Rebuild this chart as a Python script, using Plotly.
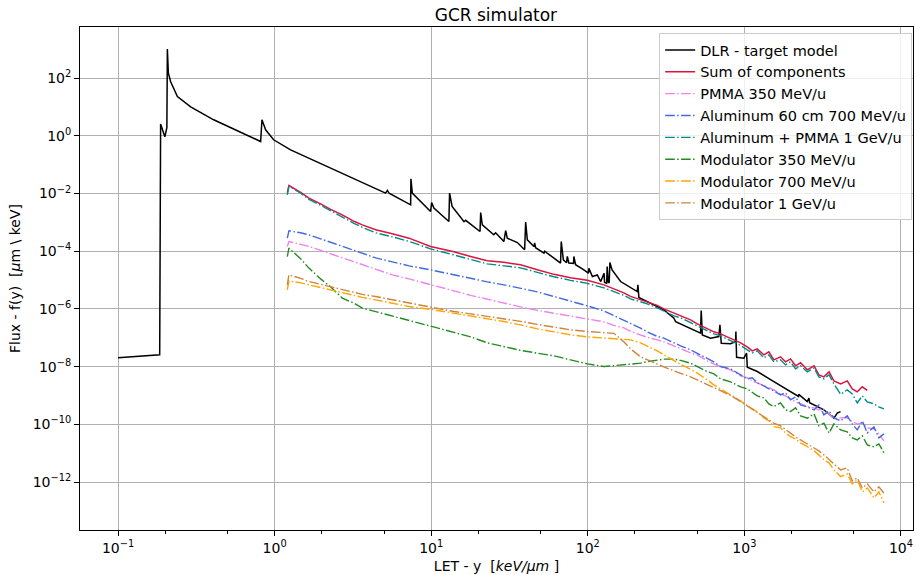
import plotly.graph_objects as go

# ---------------- data ----------------
dlr_let = [0.1, 0.1845, 0.187, 0.199, 0.205, 0.2065, 0.2096, 0.2168, 0.2393, 0.291,
           0.408, 0.814, 0.83, 0.876, 0.985, 1.265, 2.28, 3.29, 5.11, 5.25,
           5.38, 7.39, 7.42, 7.57, 9.91, 10.06, 10.4, 12.97, 13.1, 13.6,
           16.2, 16.6, 20.5, 20.7, 21.2, 25.1, 25.8, 29.1, 29.9, 30.6,
           35.5, 39.5, 40.1, 41.1, 45.3, 45.8, 46.4, 52.5, 53, 60.8,
           67, 67.7, 69.8, 73.2, 74, 75.7, 81.1, 81.5, 83.6, 94.4,
           101, 101.6, 107, 115, 121, 127, 128, 132, 133, 135,
           137, 138.4, 143, 162, 207, 209, 212, 306, 355, 364,
           453, 525, 530, 539, 608, 687, 698, 712, 817, 879,
           883, 892, 993, 1033, 1044, 1210, 1543, 1972, 2218, 2225,
           2520, 2585, 2610, 3220, 3550, 3730, 3920, 4115]
dlr_flux = [2.02e-8, 2.57e-8, 2.55, 0.92, 1.9, 1010, 149, 74.5, 23, 10.1,
            3.59, 0.634, 3.59, 1.61, 0.727, 0.327, 0.076, 0.0299, 0.0103, 0.0129,
            0.0102, 4.06e-3, 0.0324, 0.0103, 2.38e-3, 4.88e-3, 3.12e-3, 1.07e-3, 0.0103, 3.55e-3,
            1.05e-3, 1.18e-3, 4.82e-4, 2.19e-3, 8.2e-4, 3.7e-4, 4.35e-4, 2.17e-4, 5.2e-4, 2.84e-4,
            2.0e-4, 1.12e-4, 1.02e-3, 2.48e-4, 1.46e-4, 1.95e-4, 1.32e-4, 8.6e-5, 1.0e-4, 5.75e-5,
            3.9e-5, 2.17e-4, 5.0e-5, 3.98e-5, 6.6e-5, 3.9e-5, 3.8e-5, 6.6e-5, 3.4e-5, 2.26e-5,
            1.74e-5, 2.56e-5, 1.33e-5, 1.51e-5, 8.9e-6, 1.74e-5, 8.3e-6, 7.8e-6, 2.95e-5, 8.7e-6,
            8.0e-6, 4.07e-5, 2.26e-5, 8.9e-6, 4.0e-6, 6.8e-6, 2.5e-6, 9.3e-7, 4.8e-7, 3.6e-7,
            2.16e-7, 1.45e-7, 8.8e-7, 1.26e-7, 9.7e-8, 1.1e-7, 2.8e-7, 6.5e-8, 6.2e-8, 7.4e-8,
            1.65e-7, 2.1e-8, 1.97e-8, 2.94e-8, 9.5e-9, 6.8e-9, 3.05e-9, 1.38e-9, 9.3e-10, 1.1e-9,
            6.2e-10, 8.1e-10, 5.6e-10, 3.2e-10, 2.1e-10, 1.64e-10, 2.45e-10, 2.78e-10]

# shared LET grid of the simulated components
comp_let = [1.205, 1.234, 1.466, 1.656, 1.966, 2.279, 2.705, 3.21, 3.63, 4.42,
            5.64, 7.21, 9.91, 13.96, 17.85, 22.8, 29.1, 37.2, 47.6, 60.8,
            77.6, 99.3, 126.7, 146.8, 170, 187.6, 217.3, 239.7, 277.7, 306,
            355, 391.4, 453, 500.6, 579.6, 638.6, 704.7, 816.6, 946, 1043.5,
            1123, 1208, 1333, 1433, 1543, 1702, 1832, 1972, 2123, 2286,
            2523, 2787, 2990, 3221, 3474, 3730, 4115, 4540, 4888, 5260,
            5665, 6095, 6720, 7227, 7785]

sum_let = [1.205, 1.234, 1.466, 1.656, 1.966, 2.279, 2.705, 3.21, 3.63, 4.42,
           5.64, 7.21, 9.91, 13.96, 17.85, 22.8, 29.1, 37.2, 47.6, 60.8,
           77.6, 99.3, 126.7, 146.8, 170, 187.6, 217.3, 239.7, 277.7, 306,
           355, 391.4, 453, 500.6, 579.6, 638.6, 704.7, 816.6, 946, 1043.5,
           1123, 1208, 1333, 1433, 1543, 1702, 1832, 1972, 2123, 2286,
           2523, 2787, 2990, 3221, 3474, 3730, 4115, 4540, 4888, 5260,
           5665, 6095]
sum_flux = [1.06e-2, 1.89e-2, 1.10e-2, 6.93e-3, 4.40e-3, 2.83e-3, 1.83e-3, 1.09e-3, 8.22e-4, 5.52e-4,
            4.01e-4, 2.84e-4, 1.46e-4, 9.53e-5, 6.55e-5, 4.65e-5, 4.12e-5, 3.38e-5, 2.27e-5, 1.58e-5,
            1.20e-5, 9.8e-6, 6.84e-6, 4.97e-6, 3.61e-6, 2.73e-6, 2.07e-6, 1.76e-6, 1.33e-6, 1.01e-6,
            7.33e-7, 5.77e-7, 4.19e-7, 3.05e-7, 2.04e-7, 1.61e-7, 1.37e-7, 9.73e-8, 6.68e-8, 4.86e-8,
            3.53e-8, 4.14e-8, 2.56e-8, 3.26e-8, 1.72e-8, 2.19e-8, 1.47e-8, 1.86e-8, 1.07e-8, 1.36e-8,
            7.75e-9, 1.07e-8, 5.20e-9, 4.43e-9, 6.61e-9, 3.22e-9, 2.54e-9, 3.22e-9, 1.70e-9, 1.34e-9,
            2.00e-9, 1.51e-9]

pmma_350 = [1.46e-4, 2.17e-4, 1.73e-4, 1.46e-4, 1.07e-4, 8.13e-5, 5.77e-5, 4.30e-5, 3.38e-5, 2.27e-5,
            1.52e-5, 1.10e-5, 7.13e-6, 4.24e-6, 2.96e-6, 2.15e-6, 1.59e-6, 1.18e-6, 8.94e-7, 7.15e-7,
            5.77e-7, 4.36e-7, 3.57e-7, 2.70e-7, 2.21e-7, 1.67e-7, 1.27e-7, 1.04e-7, 8.49e-8, 7.24e-8,
            5.26e-8, 4.14e-8, 3.01e-8, 2.56e-8, 1.59e-8, 1.25e-8, 9.84e-9, 7.75e-9, 4.80e-9, 4.09e-9,
            3.22e-9, 2.74e-9, 2.16e-9, 1.84e-9, 1.57e-9, 1.14e-9, 9.72e-10, 7.66e-10, 6.03e-10, 5.14e-10,
            4.2e-10, 3.73e-10, 3.18e-10, 3.3e-10, 2.31e-10, 1.6e-10, 1.68e-10, 1.7e-10, 1.22e-10, 1.04e-10,
            1.1e-10, 7.57e-11, 7.0e-11, 4.69e-11, 2.68e-11]

aluminum_700 = [2.84e-4, 5.09e-4, 4.35e-4, 3.70e-4, 2.69e-4, 2.03e-4, 1.46e-4, 1.07e-4, 8.46e-5, 5.90e-5,
                4.30e-5, 3.12e-5, 2.27e-5, 1.52e-5, 1.17e-5, 8.69e-6, 6.84e-6, 5.18e-6, 3.92e-6, 2.69e-6,
                1.91e-6, 1.28e-6, 8.59e-7, 6.00e-7, 4.19e-7, 3.17e-7, 2.16e-7, 1.61e-7, 1.12e-7, 9.73e-8,
                6.52e-8, 5.26e-8, 3.82e-8, 2.94e-8, 2.02e-8, 1.47e-8, 1.01e-8, 8.39e-9, 5.20e-9, 3.78e-9,
                4.09e-9, 2.74e-9, 2.16e-9, 1.70e-9, 1.45e-9, 1.05e-9, 1.24e-9, 7.06e-10, 8.97e-10, 4.74e-10,
                4.05e-10, 3.18e-10, 4.74e-10, 2.13e-10, 2.94e-10, 1.68e-10, 1.32e-10, 1.97e-10, 1.04e-10, 6.44e-11,
                1.32e-10, 5.07e-11, 8.18e-11, 3.40e-11, 4.69e-11]

al_pmma_1gev = [9.0e-3, 1.78e-2, 1.02e-2, 6.30e-3, 3.90e-3, 2.51e-3, 1.56e-3, 9.27e-4, 6.73e-4, 4.35e-4,
                3.16e-4, 2.20e-4, 1.21e-4, 7.50e-5, 5.24e-5, 3.66e-5, 3.12e-5, 2.66e-5, 1.86e-5, 1.30e-5,
                9.80e-6, 7.71e-6, 5.38e-6, 4.07e-6, 2.96e-6, 2.24e-6, 1.76e-6, 1.50e-6, 1.09e-6, 8.26e-7,
                5.77e-7, 4.92e-7, 3.30e-7, 2.59e-7, 1.74e-7, 1.37e-7, 1.17e-7, 7.84e-8, 5.47e-8, 3.82e-8,
                3.01e-8, 3.53e-8, 2.02e-8, 2.56e-8, 1.47e-8, 1.72e-8, 1.15e-8, 1.47e-8, 8.39e-9, 1.07e-8,
                6.61e-9, 9.08e-9, 4.43e-9, 3.78e-9, 5.20e-9, 2.54e-9, 1.10e-9, 1.57e-9, 1.14e-9, 5.56e-10,
                9.72e-10, 6.03e-10, 5.14e-10, 4.05e-10, 3.45e-10]

modulator_350 = [6.55e-5, 1.28e-4, 5.45e-5, 2.60e-5, 1.10e-5, 5.83e-6, 2.37e-6, 1.59e-6, 1.07e-6, 8.13e-7,
                 5.45e-7, 4.03e-7, 2.59e-7, 1.55e-7, 1.08e-7, 6.68e-8, 4.98e-8, 3.67e-8, 2.94e-8, 2.37e-8,
                 1.72e-8, 1.25e-8, 1.01e-8, 1.07e-8, 1.15e-8, 1.20e-8, 1.32e-8, 1.50e-8, 1.72e-8, 1.82e-8,
                 1.82e-8, 1.65e-8, 1.32e-8, 1.01e-8, 6.76e-9, 5.62e-9, 3.78e-9, 2.97e-9, 2.00e-9, 1.70e-9,
                 1.24e-9, 9.72e-10, 8.30e-10, 5.14e-10, 4.14e-10, 5.56e-10, 3.18e-10, 2.78e-10, 3.73e-10, 1.97e-10,
                 1.64e-10, 2.31e-10, 8.87e-11, 1.10e-10, 4.95e-11, 1.04e-10, 6.44e-11, 5.49e-11, 3.40e-11, 2.90e-11,
                 3.99e-11, 1.95e-11, 1.66e-11, 2.11e-11, 1.04e-11]

modulator_700 = [4.59e-6, 9.42e-6, 8.03e-6, 6.84e-6, 5.38e-6, 4.41e-6, 3.53e-6, 2.96e-6, 2.52e-6, 2.07e-6,
                 1.56e-6, 1.21e-6, 9.68e-7, 7.15e-7, 5.77e-7, 4.54e-7, 3.66e-7, 2.81e-7, 2.04e-7, 1.61e-7,
                 1.27e-7, 1.08e-7, 9.96e-8, 9.73e-8, 8.98e-8, 8.49e-8, 6.68e-8, 5.26e-8, 3.53e-8, 2.56e-8,
                 1.59e-8, 1.20e-8, 8.05e-9, 5.96e-9, 3.48e-9, 2.34e-9, 1.70e-9, 1.05e-9, 6.53e-10, 4.38e-10,
                 3.45e-10, 2.71e-10, 1.68e-10, 1.32e-10, 8.39e-11, 7.57e-11, 5.07e-11, 3.78e-11, 3.14e-11, 2.29e-11,
                 1.70e-11, 1.21e-11, 8.77e-12, 5.88e-12, 4.63e-12, 2.65e-12, 1.55e-12, 1.92e-12, 8.67e-13, 1.19e-12,
                 4.57e-13, 6.29e-13, 2.83e-13, 4.57e-13, 1.90e-13]

modulator_1gev = [6.84e-6, 1.52e-5, 1.15e-5, 8.91e-6, 7.13e-6, 5.83e-6, 4.59e-6, 3.76e-6, 3.21e-6, 2.69e-6,
                  2.07e-6, 1.59e-6, 1.18e-6, 8.13e-7, 6.76e-7, 5.55e-7, 4.80e-7, 3.72e-7, 2.92e-7, 2.40e-7,
                  1.89e-7, 1.65e-7, 1.52e-7, 1.43e-7, 7.24e-8, 4.14e-8, 2.19e-8, 1.72e-8, 1.25e-8, 9.84e-9,
                  7.15e-9, 5.96e-9, 4.43e-9, 3.48e-9, 2.43e-9, 1.80e-9, 1.45e-9, 1.01e-9, 6.17e-10, 4.38e-10,
                  3.18e-10, 2.50e-10, 1.82e-10, 1.43e-10, 1.10e-10, 8.87e-11, 6.44e-11, 4.95e-11, 3.69e-11, 2.90e-11,
                  2.23e-11, 1.53e-11, 1.21e-11, 8.77e-12, 5.88e-12, 4.27e-12, 2.65e-12, 3.10e-12, 1.10e-12, 1.40e-12,
                  6.29e-13, 8.67e-13, 4.57e-13, 6.82e-13, 4.12e-13]

x_tick_vals = [0.1, 1, 10, 100, 1000, 10000]
x_tick_text = ["10<sup>−1</sup>", "10<sup>0</sup>", "10<sup>1</sup>", "10<sup>2</sup>",
               "10<sup>3</sup>", "10<sup>4</sup>"]
y_tick_vals = [1e-12, 1e-10, 1e-8, 1e-6, 1e-4, 1e-2, 1, 1e2]
y_tick_text = ["10<sup>−12</sup>", "10<sup>−10</sup>", "10<sup>−8</sup>", "10<sup>−6</sup>",
               "10<sup>−4</sup>", "10<sup>−2</sup>", "10<sup>0</sup>", "10<sup>2</sup>"]

# ---------------- figure ----------------
FONT = "DejaVu Sans, Verdana, sans-serif"
DASHDOT = "9.6px,2.4px,1.5px,2.4px"

fig = go.Figure()
fig.add_trace(go.Scatter(x=dlr_let, y=dlr_flux, mode="lines", name="DLR - target model",
                         line=dict(color="black", width=1.5)))
fig.add_trace(go.Scatter(x=sum_let, y=sum_flux, mode="lines", name="Sum of components",
                         line=dict(color="crimson", width=1.5)))

components = [
    ("PMMA 350 MeV/u", pmma_350, "violet"),
    ("Aluminum 60 cm 700 MeV/u", aluminum_700, "royalblue"),
    ("Aluminum + PMMA 1 GeV/u", al_pmma_1gev, "darkcyan"),
    ("Modulator 350 MeV/u", modulator_350, "forestgreen"),
    ("Modulator 700 MeV/u", modulator_700, "orange"),
    ("Modulator 1 GeV/u", modulator_1gev, "peru"),
]
for name, vals, color in components:
    fig.add_trace(go.Scatter(x=comp_let, y=vals, mode="lines", name=name,
                             line=dict(color=color, width=1.4, dash=DASHDOT)))

axis_common = dict(
    type="log", showline=True, linecolor="black", linewidth=1, mirror=True,
    ticks="outside", ticklen=5, tickwidth=1, tickcolor="black", automargin=False,
    showgrid=True, gridcolor="#b0b0b0", gridwidth=0.8, zeroline=False,
    tickfont=dict(family=FONT, size=14, color="black"),
)

fig.update_layout(
    width=915, height=575,
    margin=dict(l=80, r=2, t=27, b=45),
    paper_bgcolor="white", plot_bgcolor="white",
    font=dict(family=FONT, size=14, color="black"),
    title=dict(text="GCR simulator", x=0.542, xanchor="center", y=0.974, yanchor="middle",
               yref="container", font=dict(family=FONT, size=17, color="black")),
    xaxis=dict(axis_common, range=[-1.243, 4.077], tickvals=x_tick_vals, ticktext=x_tick_text,
               minor=dict(ticks="outside", ticklen=3, tickcolor="black", showgrid=False),
               title=dict(text="LET - y  [<i>keV/μm</i> ]", standoff=6,
                          font=dict(family=FONT, size=14, color="black"))),
    yaxis=dict(axis_common, range=[-13.66, 3.77], tickvals=y_tick_vals, ticktext=y_tick_text,
               title=dict(text="Flux - f(y)  [<i>μ</i>m \\ keV]", standoff=8,
                          font=dict(family=FONT, size=14, color="black"))),
    legend=dict(x=0.999, xanchor="right", y=0.988, yanchor="top",
                bgcolor="rgba(255,255,255,0.8)", bordercolor="#cccccc", borderwidth=1,
                font=dict(family=FONT, size=14.5, color="black"), tracegroupgap=0),
    showlegend=True,
)

fig.write_html("out.html")
